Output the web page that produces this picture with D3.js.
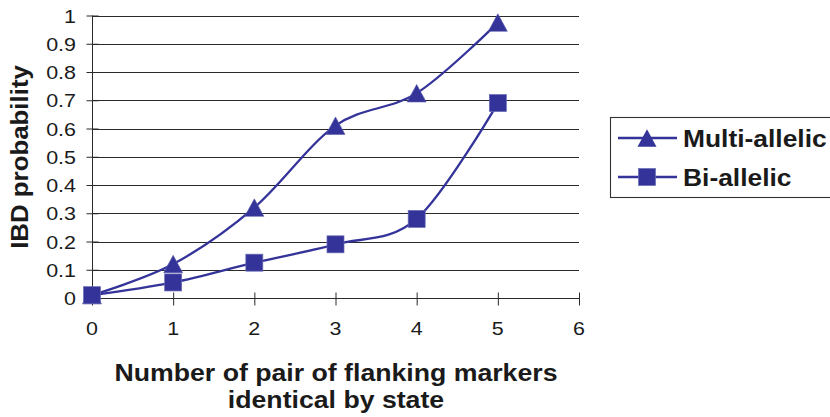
<!DOCTYPE html>
<html><head><meta charset="utf-8">
<script src="https://cdn.jsdelivr.net/npm/d3@7"></script>
<style>body{margin:0;background:#fff}svg{display:block}</style>
</head><body>
<svg id="c" width="830" height="417"></svg>
<script>
const xValues = [0, 1, 2, 3, 4, 5];
const multiAllelic = [0.01, 0.12, 0.32, 0.61, 0.725, 0.975];
const biAllelic = [0.01, 0.055, 0.125, 0.19, 0.28, 0.69];
const seriesNames = ["Multi-allelic", "Bi-allelic"];
const xTicks = [0, 1, 2, 3, 4, 5, 6];
const yTicks = [0, 0.1, 0.2, 0.3, 0.4, 0.5, 0.6, 0.7, 0.8, 0.9, 1];
const xTitle = ["Number of pair of flanking markers", "identical by state"];
const yTitle = "IBD probability";

const color = "#333399";
const font = "'Liberation Sans', Arial, Helvetica, sans-serif";
const svg = d3.select("#c");
const x = d3.scaleLinear().domain([0, 6]).range([92, 579]);
const y = d3.scaleLinear().domain([0, 1]).range([298, 15.5]);

function txt(g, s, px, py, size, weight, anchor, sx, rot) {
  return g.append("text")
    .attr("transform", `translate(${px},${py})` + (rot ? ` rotate(${rot})` : "") + ` scale(${sx},1)`)
    .attr("text-anchor", anchor)
    .attr("font-family", font).attr("font-size", size).attr("font-weight", weight)
    .attr("fill", "#1a1a1a").text(s);
}

// gridlines
svg.append("g").selectAll("line").data(yTicks.filter(d => d > 0)).join("line")
  .attr("x1", x(0)).attr("x2", x(6))
  .attr("y1", d => Math.round(y(d)) + 0.5).attr("y2", d => Math.round(y(d)) + 0.5)
  .attr("stroke", "#2a2a2a").attr("stroke-width", 1.1);

// y axis
const yAxis = svg.append("g").attr("transform", `translate(${x(0)+0.5},0)`)
  .call(d3.axisLeft(y).tickValues(yTicks).tickSize(6).tickFormat(""));
yAxis.select(".domain").attr("stroke", "#2a2a2a").attr("d", `M0,${y(1)}V${y(0)}`);
yAxis.selectAll(".tick line").attr("stroke", "#2a2a2a").attr("x2", -6).attr("x1", 6);
yTicks.forEach(d => txt(svg, d3.format("")(d), 76, y(d) + 7, 19, "normal", "end", 1.13));

// x axis
const xAxis = svg.append("g").attr("transform", `translate(0,${Math.round(y(0))+0.5})`)
  .call(d3.axisBottom(x).tickValues(xTicks).tickSize(7).tickFormat(""));
xAxis.select(".domain").attr("stroke", "#2a2a2a").attr("d", `M${x(0)},0H${x(6)}`);
xAxis.selectAll(".tick line").attr("stroke", "#2a2a2a").attr("y1", -6).attr("y2", 7);
xTicks.forEach(d => txt(svg, String(d), x(d), 335, 19, "normal", "middle", 1.13));

// titles
txt(svg, xTitle[0], 336, 381, 23, "bold", "middle", 1.16);
txt(svg, xTitle[1], 336, 408, 23, "bold", "middle", 1.16);
txt(svg, yTitle, 28, 157, 23.5, "bold", "middle", 1.1, -90);

// lines
const line = d3.line().x((d, i) => x(xValues[i])).y(d => y(d)).curve(d3.curveCardinal.tension(0));
function triPath(px, py) {
  const w = 9.5, h = 17.5;
  return `M${px},${py - h/2}L${px + w},${py + h/2}L${px - w},${py + h/2}Z`;
}
svg.append("path").datum(multiAllelic).attr("d", line)
  .attr("fill", "none").attr("stroke", color).attr("stroke-width", 2.3);
svg.append("g").selectAll("path").data(multiAllelic).join("path")
  .attr("d", (d, i) => triPath(x(xValues[i]), y(d)))
  .attr("fill", color).attr("stroke", "#5a5aaa").attr("stroke-width", 0.6);

svg.append("path").datum(biAllelic).attr("d", line)
  .attr("fill", "none").attr("stroke", color).attr("stroke-width", 2.3);
svg.append("g").selectAll("rect").data(biAllelic).join("rect")
  .attr("x", (d, i) => x(xValues[i]) - 8.5).attr("y", d => y(d) - 8.5)
  .attr("width", 17).attr("height", 17)
  .attr("fill", color).attr("stroke", "#6a6ab4").attr("stroke-width", 0.7);

// legend
const lg = svg.append("g");
lg.append("rect").attr("x", 610.5).attr("y", 117.5).attr("width", 230).attr("height", 80)
  .attr("fill", "none").attr("stroke", "#333").attr("stroke-width", 1.1);
const rowsY = [138, 177];
rowsY.forEach((ry, i) => {
  lg.append("line").attr("x1", 618).attr("x2", 677).attr("y1", ry).attr("y2", ry)
    .attr("stroke", color).attr("stroke-width", 2.3);
  if (i === 0) {
    lg.append("path").attr("d", triPath(647, ry)).attr("fill", color);
  } else {
    lg.append("rect").attr("x", 647 - 8.5).attr("y", ry - 8.5).attr("width", 17).attr("height", 17)
      .attr("fill", color).attr("stroke", "#6a6ab4").attr("stroke-width", 0.7);
  }
  txt(lg, seriesNames[i], 683, ry + 9, 24, "bold", "start", 1.1);
});
</script>
</body></html>
